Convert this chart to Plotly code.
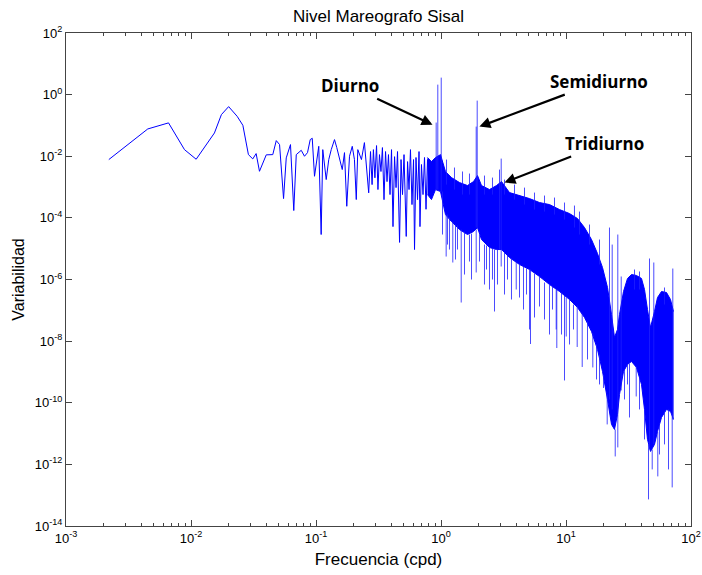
import math
import plotly.graph_objects as go

# ---- sparse low-frequency part of the spectrum (cpd, variability) ----
low_f = [0.00220, 0.00451, 0.00661, 0.00887, 0.0110, 0.0154, 0.0175, 0.0200, 0.0234, 0.0260,
         0.0288, 0.0312, 0.0332, 0.0353, 0.0400, 0.0451, 0.0481, 0.0511, 0.0550, 0.0578,
         0.0625, 0.0664, 0.0695, 0.0762, 0.0809, 0.0855, 0.0899, 0.0933, 0.0973, 0.1014,
         0.1052, 0.110, 0.1133, 0.1207, 0.1265, 0.1324, 0.1406, 0.1466, 0.1542, 0.1622,
         0.169, 0.1763, 0.1854, 0.195, 0.203, 0.210, 0.216, 0.231, 0.244, 0.264,
         0.273, 0.281, 0.288, 0.296, 0.305, 0.313, 0.322, 0.331, 0.340, 0.350,
         0.360, 0.370, 0.380, 0.391, 0.402, 0.413, 0.425, 0.437, 0.449, 0.466,
         0.479, 0.492, 0.506, 0.527, 0.540, 0.555, 0.570, 0.586, 0.603, 0.614,
         0.631, 0.649, 0.667, 0.679, 0.698, 0.718, 0.738, 0.759, 0.780, 0.802, 0.824]
low_v = [0.0078, 0.077, 0.121, 0.0164, 0.0080, 0.057, 0.224, 0.408, 0.198, 0.101,
         0.0113, 0.0082, 0.0122, 0.00325, 0.0111, 0.0113, 0.0322, 0.0239, 0.000423, 0.00885,
         0.0239, 0.000173, 0.0113, 0.0156, 0.0100, 0.0131, 0.0347, 0.0383, 0.00224, 0.0078,
         0.0210, 2.88e-5, 0.0164, 0.00175, 0.0078, 0.0164, 0.0347, 0.0191, 0.0078, 0.00369,
         0.0131, 0.000238, 0.0100, 0.0210, 0.0078, 0.000393, 0.0164, 0.0078, 0.0277, 0.00065,
         0.0142, 0.0012, 0.0164, 0.0020, 0.0222, 0.00083, 0.0113, 0.0032, 0.0191, 0.00039,
         0.0142, 0.0015, 0.0113, 0.00057, 0.0164, 5.2e-5, 0.0097, 0.00096, 0.0142, 1.6e-5,
         0.0078, 0.00057, 0.0113, 2.5e-5, 0.0067, 0.00083, 0.0164, 0.00027, 0.0078, 9.4e-6,
         0.0091, 0.00039, 0.0142, 5.2e-5, 0.0054, 0.00057, 0.0091, 0.00019, 0.0078, 0.0012, 0.0043]

# ---- dense high-frequency part: upper and lower limits of the band ----
band_f = [0.780, 0.839, 0.904, 0.991, 1.086, 1.213, 1.406, 1.629, 1.820, 1.959,
          2.109, 2.443, 2.780, 3.048, 3.532, 4.246, 5.105, 6.138, 7.379, 8.872,
          10.67, 12.36, 14.06, 16.00, 17.86, 19.59, 21.48, 23.12, 24.43, 25.82,
          26.79, 28.84, 31.05, 33.42, 36.64, 40.18, 42.46, 44.87, 47.42, 51.05,
          53.95, 58.08, 63.68, 68.55, 72.44]
band_hi = [9.05e-3, 6.71e-3, 9.05e-3, 1.13e-2, 3.18e-3, 2.03e-3, 1.40e-3, 1.12e-3, 1.51e-3, 2.36e-3,
           1.12e-3, 8.29e-4, 1.12e-3, 1.51e-3, 6.62e-4, 5.30e-4, 4.23e-4, 3.14e-4, 2.70e-4, 1.86e-4,
           1.38e-4, 9.5e-5, 4.85e-5, 1.98e-5, 6.97e-6, 2.45e-6, 5.50e-7, 7.31e-8, 1.31e-8, 2.39e-8,
           7.31e-8, 4.08e-7, 1.08e-6, 1.45e-6, 1.35e-6, 1.08e-6, 4.73e-7, 1.06e-7, 2.77e-8, 9.15e-8,
           2.60e-7, 4.08e-7, 3.78e-7, 2.24e-7, 9.15e-8]
band_lo = [5.70e-4, 3.93e-4, 8.29e-4, 7.14e-4, 1.28e-4, 7.60e-5, 4.18e-5, 2.88e-5, 3.60e-5, 4.85e-5,
           1.98e-5, 1.09e-5, 9.38e-6, 9.38e-6, 5.16e-6, 3.06e-6, 2.11e-6, 1.25e-6, 6.88e-7, 4.08e-7,
           2.24e-7, 1.23e-7, 5.85e-8, 2.06e-8, 5.36e-9, 1.04e-9, 1.28e-10, 1.98e-11, 1.36e-11, 4.18e-11,
           1.86e-10, 1.04e-9, 1.75e-9, 2.19e-9, 1.40e-9, 3.93e-10, 6.07e-11, 6.45e-12, 2.63e-12, 4.45e-12,
           1.17e-11, 3.33e-11, 6.07e-11, 5.22e-11, 2.87e-11]

# ---- isolated spikes (frequency, start value, end value) ----
spike_f = [1.100, 1.169, 1.243, 1.451, 1.912, 2.443, 2.679, 3.031, 3.997, 5.105,
           5.200, 6.138, 8.349, 8.442, 9.727, 10.04, 12.29, 13.48, 16.39, 19.95,
           21.36, 24.76, 25.97, 32.21, 36.45, 45.71, 48.94, 54.26, 70.72,
           1.028, 1.127, 1.306, 1.355, 1.542, 1.690, 1.754, 2.032, 2.228, 2.312,
           2.582, 2.831, 3.221, 3.404, 3.664, 4.246, 4.571, 4.831, 5.598, 6.730,
           7.379, 7.798, 9.204, 10.67, 11.48, 14.86, 17.54, 18.54, 29.38, 31.05,
           38.73, 42.46, 55.98, 61.38, 66.07,
           0.915, 0.943, 1.004, 1.912, 1.948, 2.938, 3.031,
           22.28, 23.42, 25.97, 27.65, 46.56, 50.39, 71.51,
           1.107, 1.282, 1.486, 1.690, 2.228, 2.582, 3.221, 3.873, 4.656, 5.598,
           6.730, 8.091, 9.727, 11.69, 12.82, 15.42, 18.54, 35.32, 38.73, 61.38]
spike_from = [1.28e-4, 1.02e-4, 7.60e-5, 4.18e-5, 4.18e-5, 1.09e-5, 9.38e-6, 9.38e-6, 3.83e-6, 2.11e-6,
              2.11e-6, 1.25e-6, 4.73e-7, 4.73e-7, 3.02e-7, 2.60e-7, 1.43e-7, 7.88e-8, 1.77e-8, 7.98e-10,
              1.86e-10, 1.36e-11, 4.18e-11, 1.88e-9, 1.50e-9, 4.45e-12, 3.06e-12, 1.17e-11, 4.18e-11,
              7.14e-4, 1.28e-4, 6.07e-5, 5.64e-5, 3.60e-5, 2.88e-5, 3.10e-5, 2.88e-5, 1.36e-5, 1.27e-5,
              1.01e-5, 9.38e-6, 7.50e-6, 6.00e-6, 4.80e-6, 3.06e-6, 2.64e-6, 2.27e-6, 1.56e-6, 7.98e-7,
              6.88e-7, 5.92e-7, 3.78e-7, 2.24e-7, 1.54e-7, 4.34e-8, 7.78e-9, 3.69e-9, 1.20e-9, 1.75e-9,
              6.62e-10, 6.07e-11, 1.98e-11, 5.22e-11, 6.07e-11,
              8.29e-4, 8.29e-4, 7.14e-4, 4.85e-5, 4.85e-5, 9.38e-6, 9.38e-6,
              1.28e-10, 6.07e-11, 4.18e-11, 2.51e-10, 3.06e-12, 4.45e-12, 2.87e-11,
              1.20e-3, 8.29e-4, 5.70e-4, 5.70e-4, 5.70e-4, 5.70e-4, 5.70e-4, 3.93e-4, 2.70e-4, 1.86e-4,
              1.60e-4, 1.28e-4, 8.82e-5, 4.85e-5, 2.88e-5, 1.36e-5, 3.06e-6, 4.73e-7, 4.73e-7, 1.54e-7]
spike_to = [5.56e-6, 9.38e-6, 3.56e-6, 1.79e-7, 1.69e-6, 4.73e-7, 9.15e-8, 2.64e-6, 4.73e-7, 2.39e-8,
            8.07e-9, 1.33e-7, 2.39e-8, 5.98e-9, 5.29e-10, 1.41e-8, 6.45e-9, 1.45e-9, 1.40e-9, 3.02e-10,
            1.98e-11, 1.81e-12, 3.55e-12, 3.33e-11, 1.60e-10, 7.30e-14, 6.86e-13, 4.07e-13, 1.79e-13,
            2.88e-5, 1.36e-5, 4.45e-6, 9.38e-6, 1.45e-6, 3.83e-6, 9.98e-7, 3.83e-6, 6.88e-7, 2.11e-6,
            9.98e-7, 6.88e-7, 3.26e-7, 9.98e-7, 2.24e-7, 2.60e-7, 1.06e-7, 3.26e-7, 5.85e-8, 5.04e-8,
            1.64e-8, 1.06e-7, 1.64e-8, 7.78e-9, 2.39e-8, 2.54e-9, 5.70e-10, 3.93e-10, 1.28e-10, 3.93e-10,
            6.07e-11, 6.45e-12, 2.10e-12, 4.45e-12, 6.86e-13,
            0.124, 2.11, 3.56, 0.0917, 0.639, 3.69e-3, 8.39e-3,
            4.85e-5, 1.36e-5, 2.88e-5, 1.25e-6, 4.80e-6, 3.56e-6, 2.27e-6,
            7.8e-3, 4.3e-3, 3.2e-3, 2.74e-3, 2.36e-3, 2.03e-3, 1.75e-3, 1.20e-3, 9.6e-4, 6.62e-4,
            5.30e-4, 4.56e-4, 3.14e-4, 2.51e-4, 1.60e-4, 6.07e-5, 1.98e-5, 2.11e-6, 1.82e-6, 5.50e-7]

# ---- axis ticks ----
x_tick_vals = [1e-3, 1e-2, 1e-1, 1e0, 1e1, 1e2]
x_tick_text = ["10<sup>-3</sup>", "10<sup>-2</sup>", "10<sup>-1</sup>", "10<sup>0</sup>",
               "10<sup>1</sup>", "10<sup>2</sup>"]
y_tick_vals = [1e-14, 1e-12, 1e-10, 1e-8, 1e-6, 1e-4, 1e-2, 1e0, 1e2]
y_tick_text = ["10<sup>-14</sup>", "10<sup>-12</sup>", "10<sup>-10</sup>", "10<sup>-8</sup>",
               "10<sup>-6</sup>", "10<sup>-4</sup>", "10<sup>-2</sup>", "10<sup>0</sup>",
               "10<sup>2</sup>"]

# annotation texts and target points (cpd, variability)
ann_text = ["Diurno", "Semidiurno", "Tridiurno"]
ann_f = [0.855, 2.03, 3.22]
ann_v = [0.106, 0.0916, 0.0014]

BLUE = "#0000FF"
fig = go.Figure()
fig.add_trace(go.Scatter(x=low_f, y=low_v, mode="lines",
                         line=dict(color=BLUE, width=1), showlegend=False))
fig.add_trace(go.Scatter(x=band_f, y=band_hi, mode="lines",
                         line=dict(color=BLUE, width=1), showlegend=False))
fig.add_trace(go.Scatter(x=band_f, y=band_lo, mode="lines", fill="tonexty",
                         fillcolor=BLUE, line=dict(color=BLUE, width=1), showlegend=False))
sx, sy = [], []
for f, a, b in zip(spike_f, spike_from, spike_to):
    sx += [f, f, None]
    sy += [a, b, None]
fig.add_trace(go.Scatter(x=sx, y=sy, mode="lines", connectgaps=False,
                         line=dict(color="rgba(30,30,255,0.8)", width=1), showlegend=False))

offsets = [(-83, -39), (120, -45), (100, -39)]
for t, f, v, (ax, ay) in zip(ann_text, ann_f, ann_v, offsets):
    fig.add_annotation(x=math.log10(f), y=math.log10(v), text="<b>%s</b>" % t,
                       ax=ax, ay=ay, showarrow=True, arrowhead=2, arrowsize=1,
                       arrowwidth=2.2, arrowcolor="black",
                       font=dict(family="Open Sans", size=17, color="black"))

axis_common = dict(type="log", showgrid=False, zeroline=False, showline=True,
                   linecolor="#444", linewidth=1, mirror="ticks", ticks="inside",
                   tickcolor="#444", ticklen=6, automargin=False,
                   tickfont=dict(family="Liberation Sans", size=13, color="black"))
fig.update_xaxes(range=[-3, 2], tickvals=x_tick_vals, ticktext=x_tick_text,
                 minor=dict(ticks="inside", ticklen=3, tickcolor="#444", dtick="D1"),
                 title=dict(text="Frecuencia (cpd)", standoff=8,
                            font=dict(family="Liberation Sans", size=17, color="black")),
                 **axis_common)
fig.update_yaxes(range=[-14, 2], tickvals=y_tick_vals, ticktext=y_tick_text,
                 title=dict(text="Variabilidad", standoff=6,
                            font=dict(family="Liberation Sans", size=16, color="black")),
                 **axis_common)
fig.update_layout(width=702, height=575, plot_bgcolor="white", paper_bgcolor="white",
                  margin=dict(l=66, r=11, t=33, b=49, autoexpand=False),
                  title=dict(text="Nivel Mareografo Sisal", xref="paper", x=0.5,
                             xanchor="center", yref="container", y=0.972, yanchor="middle",
                             font=dict(family="Liberation Sans", size=17, color="black")))
fig.write_html("out.html")
